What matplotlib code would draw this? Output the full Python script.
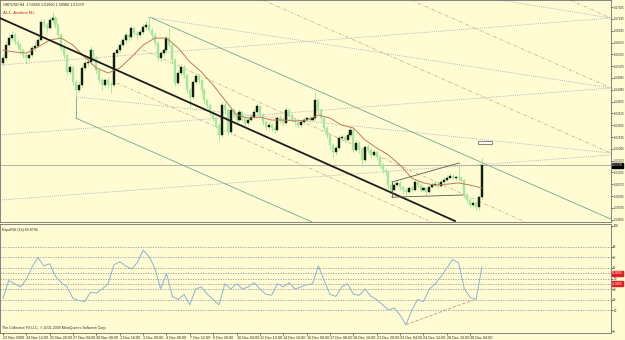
import matplotlib
matplotlib.use("Agg")
import matplotlib.pyplot as plt
import numpy as np

plt.rcParams["font.family"] = ["Liberation Sans", "DejaVu Sans"]

# ---- price data (GBPUSD H4) ----
first_open = 1.6561
closes = [
    1.6581, 1.6635, 1.6664, 1.6677, 1.6648, 1.6635, 1.6614, 1.6594, 1.6581, 1.6594,
    1.6623, 1.6631, 1.6656, 1.6731, 1.6718, 1.6706, 1.6739, 1.6747, 1.6718, 1.6677,
    1.6623, 1.6594, 1.6523, 1.6544, 1.6482, 1.6449, 1.6469, 1.6540, 1.6561, 1.6565,
    1.6614, 1.6581, 1.6532, 1.6490, 1.6469, 1.6490, 1.6473, 1.6469, 1.6602, 1.6614,
    1.6635, 1.6656, 1.6677, 1.6668, 1.6706, 1.6685, 1.6677, 1.6689, 1.6710, 1.6718,
    1.6697, 1.6677, 1.6644, 1.6581, 1.6602, 1.6614, 1.6664, 1.6635, 1.6573, 1.6478,
    1.6519, 1.6544, 1.6511, 1.6449, 1.6420, 1.6482, 1.6507, 1.6490, 1.6449, 1.6407,
    1.6386, 1.6357, 1.6332, 1.6303, 1.6262, 1.6386, 1.6366, 1.6274, 1.6366, 1.6345,
    1.6324, 1.6357, 1.6332, 1.6312, 1.6324, 1.6336, 1.6357, 1.6382, 1.6345, 1.6316,
    1.6295, 1.6303, 1.6291, 1.6283, 1.6332, 1.6324, 1.6312, 1.6366, 1.6345, 1.6324,
    1.6316, 1.6303, 1.6316, 1.6324, 1.6332, 1.6324, 1.6332, 1.6407, 1.6366, 1.6332,
    1.6291, 1.6262, 1.6220, 1.6191, 1.6208, 1.6249, 1.6253, 1.6241, 1.6262, 1.6283,
    1.6200, 1.6229, 1.6200, 1.6158, 1.6212, 1.6200, 1.6179, 1.6191, 1.6171, 1.6137,
    1.6117, 1.6108, 1.6054, 1.6034, 1.6054, 1.6063, 1.6046, 1.6034, 1.6025, 1.6042,
    1.6034, 1.6067, 1.6054, 1.6034, 1.6042, 1.6025, 1.6046, 1.6054, 1.6058, 1.6050,
    1.6067, 1.6075, 1.6083, 1.6092, 1.6083, 1.6087, 1.6083, 1.6075, 1.6013, 1.5992,
    1.5971, 1.5980, 1.5963, 1.6004, 1.6137,
]
highs = [
    1.6598, 1.6650, 1.6680, 1.6693, 1.6685, 1.6660, 1.6645, 1.6620, 1.6602, 1.6610,
    1.6635, 1.6648, 1.6668, 1.6745, 1.6742, 1.6728, 1.6750, 1.6772, 1.6755, 1.6725,
    1.6685, 1.6630, 1.6600, 1.6556, 1.6550, 1.6490, 1.6480, 1.6552, 1.6575, 1.6580,
    1.6630, 1.6620, 1.6590, 1.6540, 1.6498, 1.6500, 1.6498, 1.6485, 1.6612, 1.6625,
    1.6650, 1.6668, 1.6690, 1.6685, 1.6716, 1.6712, 1.6695, 1.6700, 1.6722, 1.6735,
    1.6751, 1.6705, 1.6685, 1.6650, 1.6612, 1.6625, 1.6675, 1.6706, 1.6640, 1.6580,
    1.6530, 1.6556, 1.6552, 1.6515, 1.6455, 1.6495, 1.6518, 1.6515, 1.6495, 1.6455,
    1.6412, 1.6392, 1.6365, 1.6340, 1.6310, 1.6398, 1.6395, 1.6372, 1.6378, 1.6375,
    1.6352, 1.6368, 1.6362, 1.6340, 1.6335, 1.6348, 1.6368, 1.6395, 1.6388, 1.6352,
    1.6322, 1.6315, 1.6310, 1.6300, 1.6342, 1.6345, 1.6330, 1.6378, 1.6372, 1.6352,
    1.6332, 1.6322, 1.6326, 1.6335, 1.6342, 1.6340, 1.6345, 1.6440, 1.6415, 1.6372,
    1.6340, 1.6298, 1.6270, 1.6228, 1.6220, 1.6260, 1.6265, 1.6262, 1.6275, 1.6295,
    1.6290, 1.6240, 1.6238, 1.6210, 1.6222, 1.6225, 1.6208, 1.6202, 1.6198, 1.6180,
    1.6145, 1.6125, 1.6115, 1.6060, 1.6066, 1.6075, 1.6070, 1.6052, 1.6042, 1.6052,
    1.6050, 1.6078, 1.6072, 1.6060, 1.6052, 1.6048, 1.6055, 1.6065, 1.6070, 1.6068,
    1.6078, 1.6088, 1.6095, 1.6105, 1.6100, 1.6098, 1.6145, 1.6092, 1.6080, 1.6020,
    1.6000, 1.5992, 1.5990, 1.6012, 1.6166,
]
lows = [
    1.6550, 1.6575, 1.6628, 1.6655, 1.6638, 1.6620, 1.6600, 1.6580, 1.6555, 1.6570,
    1.6585, 1.6612, 1.6625, 1.6650, 1.6705, 1.6690, 1.6700, 1.6730, 1.6705, 1.6665,
    1.6610, 1.6580, 1.6510, 1.6515, 1.6470, 1.6420, 1.6440, 1.6460, 1.6530, 1.6548,
    1.6558, 1.6570, 1.6520, 1.6480, 1.6450, 1.6460, 1.6455, 1.6436, 1.6460, 1.6590,
    1.6605, 1.6628, 1.6645, 1.6652, 1.6660, 1.6675, 1.6662, 1.6668, 1.6680, 1.6700,
    1.6688, 1.6665, 1.6632, 1.6570, 1.6566, 1.6590, 1.6605, 1.6625, 1.6560, 1.6465,
    1.6470, 1.6510, 1.6500, 1.6435, 1.6378, 1.6412, 1.6475, 1.6478, 1.6436, 1.6395,
    1.6372, 1.6345, 1.6318, 1.6290, 1.6241, 1.6255, 1.6350, 1.6262, 1.6265, 1.6335,
    1.6312, 1.6318, 1.6322, 1.6300, 1.6305, 1.6318, 1.6330, 1.6350, 1.6336, 1.6305,
    1.6282, 1.6288, 1.6280, 1.6270, 1.6278, 1.6312, 1.6300, 1.6305, 1.6335, 1.6315,
    1.6305, 1.6292, 1.6296, 1.6308, 1.6318, 1.6312, 1.6318, 1.6325, 1.6355, 1.6320,
    1.6278, 1.6248, 1.6205, 1.6170, 1.6180, 1.6200, 1.6238, 1.6228, 1.6235, 1.6255,
    1.6190, 1.6192, 1.6188, 1.6135, 1.6150, 1.6188, 1.6165, 1.6172, 1.6160, 1.6125,
    1.6105, 1.6095, 1.6040, 1.6022, 1.6028, 1.6045, 1.6035, 1.6022, 1.6015, 1.6020,
    1.6025, 1.6028, 1.6045, 1.6025, 1.6030, 1.6015, 1.6020, 1.6040, 1.6048, 1.6042,
    1.6045, 1.6062, 1.6070, 1.6078, 1.6075, 1.6076, 1.6072, 1.6065, 1.6000, 1.5980,
    1.5960, 1.5962, 1.5952, 1.5950, 1.5998,
]

# moving average, sampled every 4 bars
ma_bars = list(range(0, 165, 4))
ma_values = [
    1.6614, 1.6606, 1.6602, 1.6627, 1.6656, 1.6664, 1.6635, 1.6585, 1.6540, 1.6519,
    1.6540, 1.6585, 1.6635, 1.6664, 1.6664, 1.6623, 1.6565, 1.6523, 1.6469, 1.6407,
    1.6345, 1.6332, 1.6336, 1.6324, 1.6324, 1.6320, 1.6324, 1.6345, 1.6332, 1.6303,
    1.6291, 1.6241, 1.6208, 1.6179, 1.6137, 1.6083, 1.6063, 1.6054, 1.6058, 1.6063,
    1.6054, 1.6042,
]

# KapaRSI(14), sampled every 2 bars
rsi_bars = list(range(0, 165, 2))
rsi_values = [
    31, 48, 45, 42, 49, 61, 70, 62, 64, 52,
    46, 42, 31, 29, 28, 37, 36, 40, 45, 63,
    66, 62, 59, 65, 77, 71, 60, 40, 55, 33,
    30, 35, 25, 40, 42, 35, 30, 25, 45, 40,
    45, 40, 42, 46, 40, 35, 34, 45, 42, 46,
    40, 42, 44, 45, 62, 48, 35, 33, 42, 45,
    35, 34, 40, 33, 30, 25, 20, 22, 15, 6,
    20, 30, 28, 40, 45, 52, 60, 68, 65, 40,
    32, 30, 61,
]
rsi_levels = [80, 70, 60, 55, 50, 45, 40, 30, 20]

price_ticks = [
    1.67925, 1.67435, 1.66945, 1.66455, 1.65965, 1.65475, 1.64985, 1.64495,
    1.64005, 1.63515, 1.63025, 1.62535, 1.62045, 1.61555, 1.61065, 1.60575,
    1.60085, 1.59595, 1.59105,
]
time_labels = [
    "23 Nov 2009", "24 Nov 12:00", "25 Nov 20:00", "27 Nov 04:00", "30 Nov 08:00",
    "1 Dec 16:00", "3 Dec 00:00", "4 Dec 08:00", "7 Dec 12:00", "8 Dec 20:00",
    "10 Dec 04:00", "11 Dec 12:00", "14 Dec 16:00", "16 Dec 00:00", "17 Dec 08:00",
    "18 Dec 16:00", "21 Dec 20:00", "23 Dec 04:00", "24 Dec 12:00", "28 Dec 16:00",
    "30 Dec 04:00",
]

# drawn objects: ((bar, price), (bar, price))
median_line = ((-1.0, 1.6747), (154.8, 1.5905))
fork_lines = [((50.3, 1.6751), (208.2, 1.5913)), ((25.0, 1.6332), (105.8, 1.5901)),
              ((25.0, 1.6420), (25.0, 1.6332))]
rising_dots = [((-1.0, 1.6552), (208.2, 1.6747)), ((-1.0, 1.6262), (208.2, 1.6457)),
               ((-1.0, 1.5992), (208.2, 1.6179))]
falling_dots = [((170.2, 1.6822), (208.2, 1.6747)), ((49.7, 1.6751), (208.2, 1.6457)),
                ((25.0, 1.6420), (208.2, 1.6187))]
warning_lines = [((194.2, 1.6822), (208.2, 1.6747)), ((89.0, 1.6822), (208.2, 1.6187)),
                 ((139.7, 1.6822), (208.2, 1.6457)), ((47.9, 1.6615), (178.8, 1.5901)),
                 ((39.0, 1.6478), (146.6, 1.5901))]
triangle = [((133.2, 1.6067), (156.2, 1.6146)), ((133.2, 1.6004), (157.5, 1.6013)),
            ((133.2, 1.6067), (133.2, 1.6004))]
last_price = 1.6137

bg = "#fffbd2"
bull_col = "#0f1f0f"
bear_col = "#a6e6a0"
txt = "#303030"

fig = plt.figure(figsize=(6.25, 3.4), dpi=100, facecolor=bg)
W, H = 625, 340
ax = fig.add_axes([0, (H - 222) / H, 611 / W, 222 / H], facecolor=bg)
ax2 = fig.add_axes([0, (H - 333) / H, 611 / W, 109 / H], facecolor=bg)

xlim = (-1.0, 208.2)
ax.set_xlim(*xlim)
ax.set_ylim(1.5901, 1.6822)

n = len(closes)
bars = np.arange(n)
opens = [first_open] + closes[:-1]

# pitchfork + helper lines behind candles
for (a, b) in warning_lines:
    ax.plot([a[0], b[0]], [a[1], b[1]], color="#c9b48c", lw=0.6, ls=(0, (4, 2, 1, 2)), zorder=1)
for (a, b) in rising_dots + falling_dots:
    ax.plot([a[0], b[0]], [a[1], b[1]], color="#a4a2b8", lw=0.6, ls=(0, (1, 1.5)), zorder=1)
for (a, b) in fork_lines:
    ax.plot([a[0], b[0]], [a[1], b[1]], color="#6fa894", lw=0.6, zorder=1)
ax.axhline(last_price, color="#a8a8a0", lw=0.6, zorder=1)

ax.vlines(bars, lows, highs, color=bear_col, lw=0.7, zorder=2)
for i in range(n):
    o, c = opens[i], closes[i]
    col = bull_col if c > o else bear_col
    h = max(abs(c - o), 0.00012)
    ax.bar(i, h, bottom=min(o, c), width=0.7, color=col, edgecolor=col, lw=0.3, zorder=3)

ax.plot(ma_bars, ma_values, color="#c07a55", lw=0.7, zorder=4)
ax.plot([median_line[0][0], median_line[1][0]], [median_line[0][1], median_line[1][1]],
        color="#1c1c1c", lw=1.3, zorder=5)
for (a, b) in triangle:
    ax.plot([a[0], b[0]], [a[1], b[1]], color="#5a5a50", lw=0.6, zorder=5)
ax.add_patch(plt.Rectangle((162.7, 1.6224), 4.8, 0.0013, facecolor="white",
                           edgecolor="#707070", lw=0.6, zorder=5))

ax.yaxis.tick_right()
ax.set_yticks(price_ticks)
ax.set_yticklabels([f"{p:.5f}" for p in price_ticks])
ax.tick_params(axis="y", length=1.2, width=0.5, labelsize=2.2, pad=0.5, colors=txt)
ax.set_xticks([])
ax.text(1.002, last_price, f"{last_price:.5f}", transform=ax.get_yaxis_transform(),
        fontsize=2.2, color="white", va="center", ha="left", zorder=10, clip_on=False,
        bbox=dict(boxstyle="square,pad=0.2", fc="black", ec="black"))
for s in ax.spines.values():
    s.set_color("#707070")
    s.set_linewidth(0.6)

fig.text(3 / W, 1 - 5 / H, "GBPUSD,H4  1.59960 1.61660 1.59980 1.61370", fontsize=2.7,
         color=txt, va="center")
fig.text(3 / W, 1 - 13 / H, "AL1: Andrew ML", fontsize=3.2, color="#c03020", va="center")

# ---- indicator window ----
ax2.set_xlim(*xlim)
ax2.set_ylim(-1.9, 101.9)
for lv in rsi_levels:
    ax2.axhline(lv, color="#9a9a9a", lw=0.6, ls=(0, (1.5, 1.5)), zorder=1)
ax2.plot(rsi_bars, rsi_values, color="#8db3d6", lw=0.7, zorder=3)
ax2.plot([138, 161], [6, 29.5], color="#c8968a", lw=0.6, ls=(0, (4, 2)), zorder=2)
ax2.yaxis.tick_right()
ax2.set_yticks([100, 80, 70, 60, 50, 40, 30, 20, 0])
ax2.set_yticklabels(["100", "80", "70", "60", "50", "40", "30", "20", "0"])
ax2.tick_params(axis="y", length=1.2, width=0.5, labelsize=2.2, pad=0.5, colors=txt)
for lv in (55, 45):
    ax2.text(1.002, lv, f"{lv:.4f}", transform=ax2.get_yaxis_transform(), fontsize=2.1,
             color="white", va="center", ha="left", clip_on=False,
             bbox=dict(boxstyle="square,pad=0.2", fc="#e02020", ec="#e02020"))
tick_pos = list(range(0, 8 * len(time_labels), 8))
ax2.set_xticks(tick_pos)
ax2.set_xticklabels(time_labels, ha="left")
ax2.tick_params(axis="x", length=1.5, width=0.5, labelsize=2.7, pad=0.5, colors=txt)
for s in ax2.spines.values():
    s.set_color("#707070")
    s.set_linewidth(0.6)
ax2.text(0.004, 0.965, "KapaRSI (14) 60.8796", transform=ax2.transAxes, fontsize=2.6,
         color=txt, va="top")
ax2.text(0.004, 0.03, "The Collective FX LLC, \u00a9 2001-2009 MetaQuotes Software Corp.",
         transform=ax2.transAxes, fontsize=2.6, color=txt, va="bottom")

fig.savefig("out.png", dpi=100, facecolor=bg)
